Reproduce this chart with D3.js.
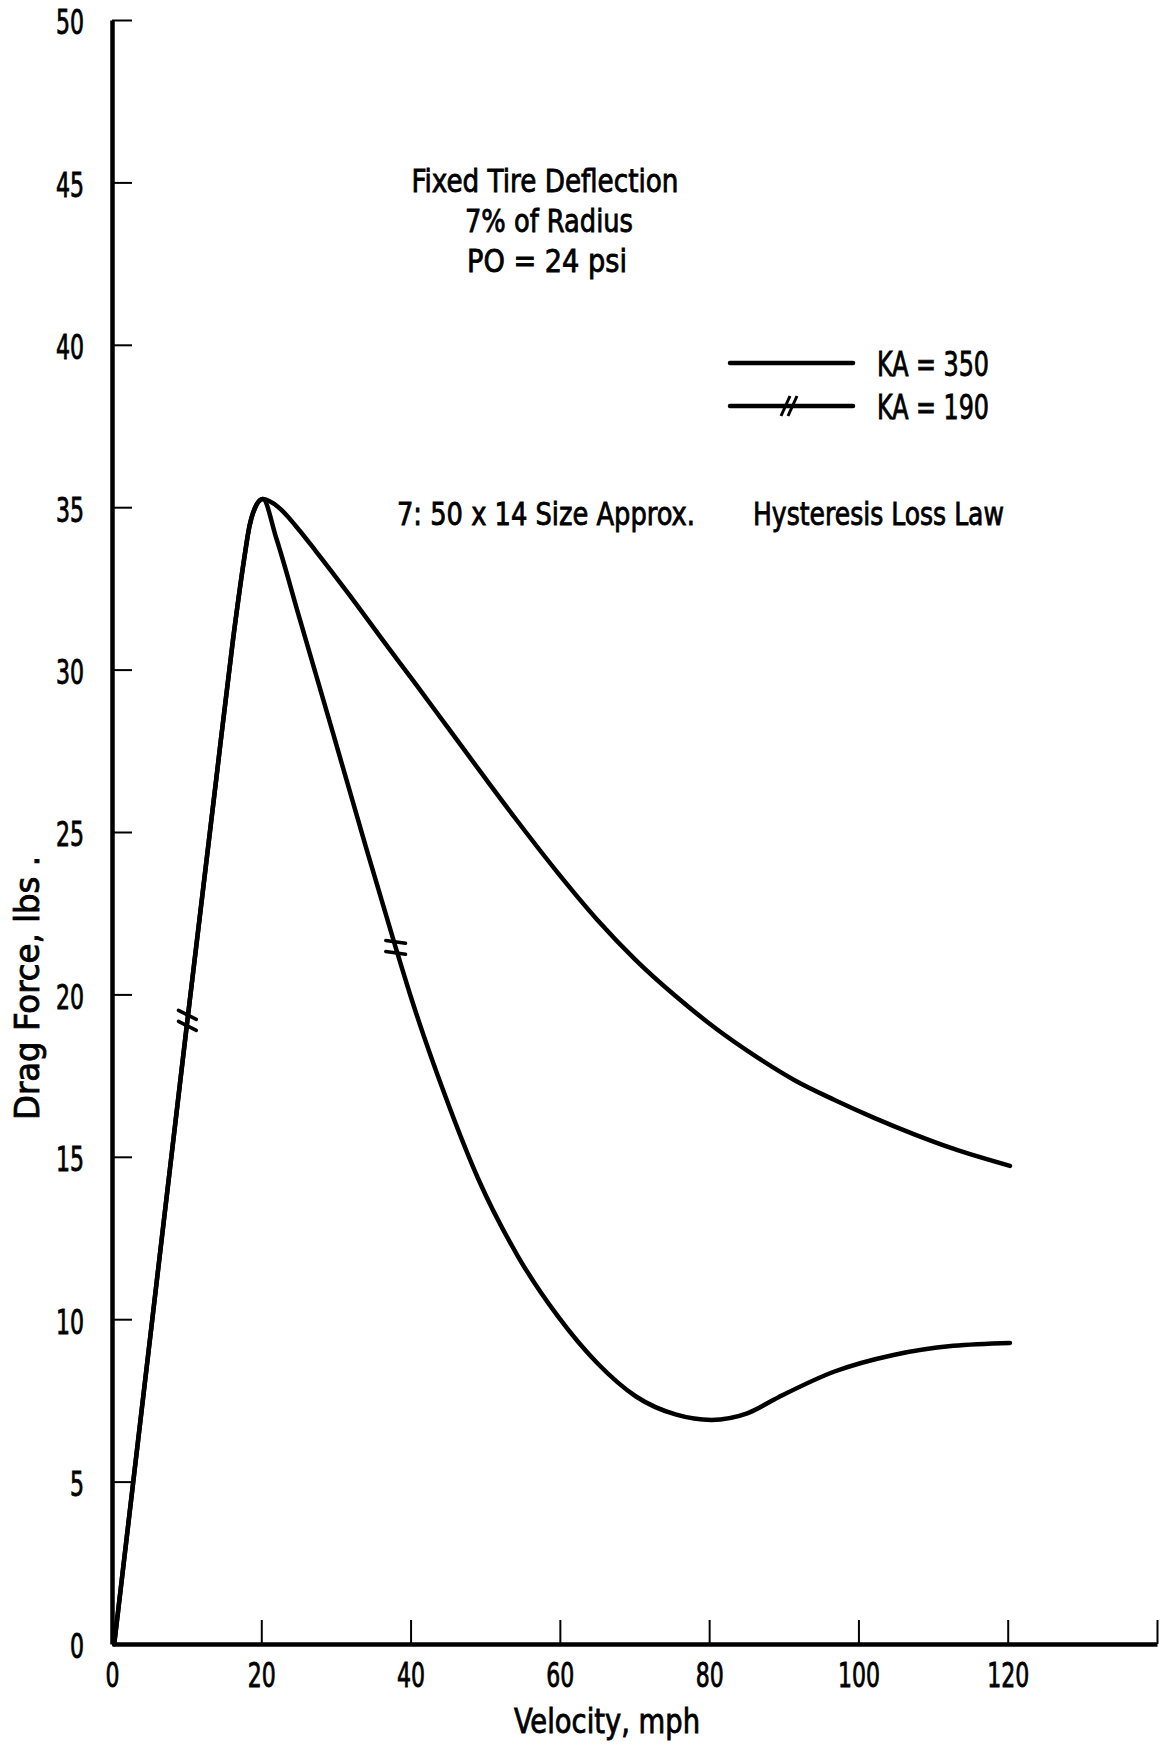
<!DOCTYPE html>
<html>
<head>
<meta charset="utf-8">
<script src="https://cdn.jsdelivr.net/npm/d3@7"></script>
<style>
  body { margin: 0; background: #fff; }
  text { font-family: "Liberation Sans Narrow", "DejaVu Sans Condensed", sans-serif; fill: #000; stroke: #000; stroke-width: 0.8px; }
</style>
</head>
<body>
<svg id="grafico" width="1167" height="1747"></svg>
<script>
// velocity (mph) / drag force (lbs)
var vel350 = [0.3, 5.4, 10.1, 13.9, 16.2, 17.7, 18.4, 19.2, 20.2, 22.3, 24.7, 27.3, 31.8, 36.3, 40.7, 45.2, 49.7, 54.1, 59.7, 65.0, 70.2, 75.5, 80.9, 86.2, 91.5, 96.8, 102.1, 107.4, 112.7, 120.3];
var drag350 = [0, 10, 19.2, 26.5, 30.9, 33.4, 34.4, 35.0, 35.25, 35.0, 34.4, 33.65, 32.3, 30.9, 29.55, 28.15, 26.75, 25.4, 23.75, 22.3, 21.05, 19.95, 18.95, 18.1, 17.35, 16.75, 16.2, 15.7, 15.25, 14.72];

var vel190 = [0.3, 5.4, 10.1, 13.9, 16.2, 17.7, 18.4, 19.2, 20.2, 22.0, 25.1, 29.6, 34.0, 38.0, 40.0, 44.6, 49.1, 54.4, 59.7, 65.0, 70.2, 75.6, 80.3, 85.1, 89.3, 96.8, 104.7, 112.7, 120.3];
var drag190 = [0, 10, 19.2, 26.5, 30.9, 33.4, 34.4, 35.0, 35.25, 34.05, 31.6, 28.05, 24.55, 21.45, 19.95, 16.9, 14.3, 11.93, 10.1, 8.65, 7.62, 7.06, 6.9, 7.1, 7.6, 8.39, 8.9, 9.18, 9.27];

// where the "//" marks sit on the KA = 190 curve
var hashVel = [10.1, 38.0];
var hashDrag = [19.2, 21.45];

var xTicks = [0, 20, 40, 60, 80, 100, 120, 140];
var xTickLabels = ["0", "20", "40", "60", "80", "100", "120", ""];
var yTicks = [0, 5, 10, 15, 20, 25, 30, 35, 40, 45, 50];

var legendLabels = ["KA = 350", "KA = 190"];

var svg = d3.select("#grafico");
svg.append("rect").attr("width", 1167).attr("height", 1747).attr("fill", "#fff");

var x = d3.scaleLinear().domain([0, 140]).range([112, 1157]);
var y = d3.scaleLinear().domain([0, 50]).range([1644, 20]);

// axes
var xAxis = d3.axisBottom(x)
    .tickValues(xTicks)
    .tickFormat(function(d, i) { return xTickLabels[i]; })
    .tickSizeInner(-24)
    .tickSizeOuter(0)
    .tickPadding(20);
var yAxis = d3.axisLeft(y)
    .tickValues(yTicks)
    .tickFormat(d3.format("d"))
    .tickSizeInner(-20)
    .tickSizeOuter(0)
    .tickPadding(28);

var gx = svg.append("g").attr("transform", "translate(0,1644)").call(xAxis);
var gy = svg.append("g").attr("transform", "translate(112,0)").call(yAxis);

[gx, gy].forEach(function(g) {
  g.select(".domain").attr("stroke", "#000").attr("stroke-width", 4.5);
  g.selectAll(".tick line").attr("stroke", "#000").attr("stroke-width", 2);
  g.selectAll(".tick text")
    .attr("font-family", null)
    .style("font-size", "33px")
    .attr("fill", "#000")
    .attr("lengthAdjust", "spacingAndGlyphs")
    .attr("textLength", function() { return this.textContent.length * 14 || null; });
});
gy.selectAll(".tick text").attr("dy", "0.42em");

// axis titles
svg.append("text")
    .attr("x", 607).attr("y", 1733)
    .attr("text-anchor", "middle")
    .style("font-size", "33px")
    .attr("textLength", 186).attr("lengthAdjust", "spacingAndGlyphs")
    .text("Velocity,  mph");

svg.append("text")
    .attr("transform", "translate(39,988) rotate(-90)")
    .attr("text-anchor", "middle")
    .style("font-size", "34px")
    .attr("textLength", 264).attr("lengthAdjust", "spacingAndGlyphs")
    .text("Drag Force,  lbs .");

// curves
var line = d3.line()
    .x(function(d) { return x(d[0]); })
    .y(function(d) { return y(d[1]); })
    .curve(d3.curveMonotoneX);

var series = [d3.zip(vel350, drag350), d3.zip(vel190, drag190)];

svg.selectAll(".curve")
  .data(series)
  .enter().append("path")
    .attr("class", "curve")
    .attr("d", line)
    .attr("fill", "none")
    .attr("stroke", "#000")
    .attr("stroke-width", 4.5)
    .attr("stroke-linecap", "round")
    .attr("stroke-linejoin", "round");

// hash marks on the KA = 190 curve
var hashTilt = [27, 8];
var hash = svg.selectAll(".hash")
  .data(d3.zip(hashVel, hashDrag))
  .enter().append("g")
    .attr("class", "hash")
    .attr("transform", function(d) { return "translate(" + x(d[0]) + "," + y(d[1]) + ")"; });
hash.each(function(d, i) {
  var g = d3.select(this);
  [-5.5, 5.5].forEach(function(off) {
    g.append("line")
      .attr("x1", -10).attr("x2", 10).attr("y1", 0).attr("y2", 0)
      .attr("transform", "translate(0," + off + ") rotate(" + hashTilt[i] + ")")
      .attr("stroke", "#000").attr("stroke-width", 3.5)
      .attr("stroke-linecap", "round");
  });
});

// notes
var notes = svg.append("g").style("font-size", "32px");
notes.append("text").attr("x", 545).attr("y", 192).attr("text-anchor", "middle")
    .attr("textLength", 267).attr("lengthAdjust", "spacingAndGlyphs")
    .text("Fixed Tire  Deflection");
notes.append("text").attr("x", 549).attr("y", 232).attr("text-anchor", "middle")
    .attr("textLength", 168).attr("lengthAdjust", "spacingAndGlyphs")
    .text("7% of Radius");
notes.append("text").attr("x", 547).attr("y", 272).attr("text-anchor", "middle")
    .attr("textLength", 160).attr("lengthAdjust", "spacingAndGlyphs")
    .text("PO  =  24 psi");
notes.append("text").attr("x", 397).attr("y", 525)
    .attr("textLength", 298).attr("lengthAdjust", "spacingAndGlyphs")
    .text("7: 50 x 14 Size Approx.");
notes.append("text").attr("x", 753).attr("y", 525)
    .attr("textLength", 251).attr("lengthAdjust", "spacingAndGlyphs")
    .text("Hysteresis Loss Law");

// legend
var legend = svg.selectAll(".legend")
  .data(legendLabels)
  .enter().append("g")
    .attr("class", "legend")
    .attr("transform", function(d, i) { return "translate(730," + (363 + i * 43) + ")"; });
legend.append("line")
    .attr("x1", 0).attr("x2", 123)
    .attr("stroke", "#000").attr("stroke-width", 4.5)
    .attr("stroke-linecap", "round");
legend.append("text")
    .attr("x", 147).attr("y", 13)
    .style("font-size", "33px")
    .attr("textLength", 112).attr("lengthAdjust", "spacingAndGlyphs")
    .text(function(d) { return d; });
legend.filter(function(d, i) { return i === 1; })
  .selectAll(".slash")
  .data([55.5, 62.5])
  .enter().append("line")
    .attr("class", "slash")
    .attr("x1", function(d) { return d - 4.5; }).attr("y1", 10)
    .attr("x2", function(d) { return d + 4.5; }).attr("y2", -10)
    .attr("stroke", "#000").attr("stroke-width", 3);
</script>
</body>
</html>
